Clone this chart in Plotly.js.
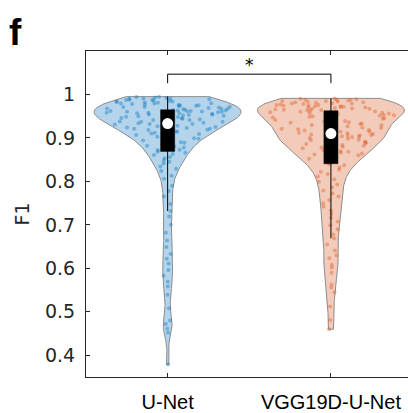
<!DOCTYPE html>
<html><head><meta charset="utf-8">
<script src="https://cdn.plot.ly/plotly-3.0.1.min.js"></script>
<style>html,body{margin:0;padding:0;background:#fff}#chart{width:408px;height:413px}</style>
</head><body><div id="chart"></div>
<script>
// ---- data ----
const categories = ['U-Net', 'VGG19D-U-Net'];

const unetF1 = [
  0.379, 0.452, 0.461, 0.472, 0.480, 0.508, 0.539, 0.558, 0.569, 0.583, 0.596, 0.611,
  0.622, 0.633, 0.649, 0.664, 0.682, 0.700, 0.719, 0.732, 0.748, 0.765, 0.778, 0.790,
  0.806, 0.813, 0.824, 0.829, 0.834, 0.841, 0.845, 0.848, 0.853, 0.856, 0.861, 0.863, 0.866,
  0.868, 0.872, 0.873, 0.878, 0.881, 0.882, 0.887, 0.889, 0.890, 0.894, 0.895, 0.898, 0.899,
  0.902, 0.903, 0.904, 0.907, 0.909, 0.910, 0.912, 0.914, 0.915, 0.916, 0.918, 0.919, 0.921,
  0.921, 0.923, 0.924, 0.925, 0.926, 0.927, 0.928, 0.929, 0.930, 0.931, 0.932, 0.932,
  0.934, 0.935, 0.937, 0.937, 0.938, 0.940, 0.941, 0.941, 0.943, 0.944, 0.945, 0.946, 0.948,
  0.948, 0.949, 0.950, 0.951, 0.952, 0.953, 0.954, 0.954, 0.955, 0.956, 0.957, 0.957, 0.958,
  0.958, 0.959, 0.960, 0.960, 0.961, 0.961, 0.962, 0.962, 0.963, 0.963, 0.964,
  0.965, 0.966, 0.967, 0.967, 0.968, 0.969, 0.970, 0.971, 0.971, 0.972, 0.973, 0.974, 0.975,
  0.975, 0.976, 0.977, 0.978, 0.979, 0.979, 0.980, 0.981, 0.982, 0.983, 0.983, 0.984, 0.985,
  0.986, 0.987, 0.987, 0.988, 0.989, 0.990, 0.991, 0.991, 0.992, 0.993, 0.994, 0.995
];

const vggF1 = [
  0.460, 0.481, 0.512, 0.545, 0.556, 0.563, 0.590, 0.602, 0.608, 0.623, 0.630, 0.641, 0.655,
  0.669, 0.678, 0.690, 0.699, 0.708, 0.716, 0.725, 0.733, 0.742, 0.750, 0.757, 0.765,
  0.772, 0.779, 0.786, 0.793, 0.799, 0.805, 0.811, 0.817, 0.822, 0.827, 0.832, 0.837,
  0.840, 0.843, 0.846, 0.849, 0.852, 0.855, 0.858, 0.860, 0.862, 0.864, 0.866, 0.868, 0.870,
  0.872, 0.874, 0.876, 0.878, 0.880, 0.882, 0.884, 0.886, 0.888, 0.890, 0.892, 0.893, 0.895,
  0.896, 0.898, 0.899, 0.900, 0.902, 0.903, 0.904, 0.905, 0.906, 0.907, 0.908, 0.909,
  0.911, 0.912, 0.914, 0.915, 0.917, 0.918, 0.920, 0.921, 0.923, 0.924, 0.926, 0.927, 0.929,
  0.930, 0.932, 0.933, 0.935, 0.936, 0.938, 0.939, 0.941, 0.942, 0.944, 0.945, 0.947, 0.948,
  0.950, 0.951, 0.952, 0.953, 0.955, 0.956, 0.957, 0.958, 0.959, 0.960, 0.961,
  0.963, 0.963, 0.964, 0.965, 0.966, 0.967, 0.967, 0.968, 0.969, 0.970, 0.970, 0.971, 0.972,
  0.973, 0.973, 0.974, 0.975, 0.976, 0.976, 0.977, 0.978, 0.979, 0.979, 0.980, 0.981, 0.982,
  0.982, 0.983, 0.984, 0.985, 0.985, 0.986, 0.987, 0.988, 0.988, 0.989, 0.990, 0.991
];

const yTickVals = [0.4, 0.5, 0.6, 0.7, 0.8, 0.9, 1];
const yTickText = ['0.4', '0.5', '0.6', '0.7', '0.8', '0.9', '1'];
const significance = [{from: 0, to: 1, label: '*'}];

// ---- styles ----
const groups = [
  {values: unetF1, fill: '#b3d4eb', dot: 'rgba(0,114,189,0.38)', bw: 0.022},
  {values: vggF1,  fill: '#f3cbba', dot: 'rgba(217,83,25,0.38)', bw: 0.022}
];
const HALF_WIDTH = 0.45;
const BOX_WIDTH = 0.086;

function hash(i, s) {
  const x = Math.sin(i * 12.9898 + s * 78.233) * 43758.5453;
  return x - Math.floor(x);
}
function quantile(sorted, p) {
  const idx = (sorted.length - 1) * p, lo = Math.floor(idx), hi = Math.ceil(idx);
  return sorted[lo] + (sorted[hi] - sorted[lo]) * (idx - lo);
}

const tViolin = [], tDots = [], tBox = [];
groups.forEach((g, gi) => {
  const pos = gi + 1;
  const vals = g.values.slice().sort((a, b) => a - b);
  const mn = vals[0], mx = vals[vals.length - 1];
  const dens = y => vals.reduce((s, v) => s + Math.exp(-0.5 * Math.pow((y - v) / g.bw, 2)), 0);
  const n = 240, ys = [], ds = [];
  for (let k = 0; k <= n; k++) { const y = mn + (mx - mn) * k / n; ys.push(y); ds.push(dens(y)); }
  const dmax = Math.max(...ds);
  const hw = y => HALF_WIDTH * dens(y) / dmax;
  const ox = [], oy = [];
  for (let k = 0; k <= n; k++) { ox.push(pos + HALF_WIDTH * ds[k] / dmax); oy.push(ys[k]); }
  for (let k = n; k >= 0; k--) { ox.push(pos - HALF_WIDTH * ds[k] / dmax); oy.push(ys[k]); }
  ox.push(ox[0]); oy.push(oy[0]);
  tViolin.push({type: 'scatter', mode: 'lines', x: ox, y: oy, fill: 'toself', fillcolor: g.fill,
    line: {color: '#8c8c8c', width: 1}, hoverinfo: 'skip', showlegend: false});
  tDots.push({type: 'scatter', mode: 'markers',
    x: g.values.map((v, i) => pos + (2 * hash(i + 1, gi + 1) - 1) * hw(v) * 0.9),
    y: g.values, marker: {color: g.dot, size: 4}, showlegend: false, hoverinfo: 'y'});

  const q1 = quantile(vals, 0.25), med = quantile(vals, 0.5), q3 = quantile(vals, 0.75);
  const iqr = q3 - q1;
  const lw = vals.filter(v => v >= q1 - 1.5 * iqr)[0];
  const uw = vals.filter(v => v <= q3 + 1.5 * iqr).slice(-1)[0];
  const b0 = pos - BOX_WIDTH / 2, b1 = pos + BOX_WIDTH / 2;
  tBox.push({type: 'scatter', mode: 'lines', x: [pos, pos], y: [lw, uw],
    line: {color: '#000', width: 1}, hoverinfo: 'skip', showlegend: false});
  tBox.push({type: 'scatter', mode: 'lines', x: [b0, b1, b1, b0, b0], y: [q1, q1, q3, q3, q1],
    fill: 'toself', fillcolor: '#000', line: {color: '#000', width: 0.5}, hoverinfo: 'skip', showlegend: false});
  tBox.push({type: 'scatter', mode: 'markers', x: [pos], y: [med],
    marker: {color: '#fff', size: 11, line: {width: 0}}, showlegend: false});
});
const traces = tViolin.concat(tDots, tBox);

const shapes = [], annotations = [];
significance.forEach(s => {
  const a = s.from + 1, b = s.to + 1;
  shapes.push({type: 'path', xref: 'x', yref: 'y',
    path: `M ${a} 1.026 L ${a} 1.0467 L ${b} 1.0467 L ${b} 1.026`, line: {color: '#000', width: 1}});
  annotations.push({x: (a + b) / 2, y: 1.067, xref: 'x', yref: 'y', text: s.label, showarrow: false,
    font: {family: 'DejaVu Sans', size: 17, color: '#000'}});
});
annotations.push({x: -0.245, y: 1.058, xref: 'paper', yref: 'paper', xanchor: 'left', yanchor: 'middle',
  text: '<b>f</b>', showarrow: false, font: {family: 'Liberation Sans', size: 37, color: '#000'}});

const layout = {
  width: 408, height: 413, autosize: false,
  margin: {l: 86, r: 0, t: 51, b: 36, pad: 0},
  paper_bgcolor: '#fff', plot_bgcolor: '#fff',
  showlegend: false,
  xaxis: {type: 'linear', range: [0.5, 2.472], tickvals: categories.map((c, i) => i + 1), ticktext: categories,
    ticks: 'inside', ticklen: 4, tickcolor: '#262626', showline: true, linecolor: '#262626', linewidth: 1,
    mirror: 'ticks', showgrid: false, zeroline: false, ticklabelstandoff: 7,
    tickfont: {family: 'Liberation Sans', size: 20, color: '#000'}},
  yaxis: {range: [0.35, 1.1], tickvals: yTickVals, ticktext: yTickText,
    ticks: 'inside', ticklen: 4, tickcolor: '#262626', showline: true, linecolor: '#262626', linewidth: 1,
    showgrid: false, zeroline: false, ticklabelstandoff: 6,
    tickfont: {family: 'DejaVu Sans', size: 19, color: '#262626'},
    title: {text: 'F1', standoff: 10, font: {family: 'DejaVu Sans', size: 19, color: '#262626'}}},
  shapes: shapes, annotations: annotations
};

Plotly.newPlot('chart', traces, layout, {displayModeBar: false, staticPlot: true});
</script></body></html>
